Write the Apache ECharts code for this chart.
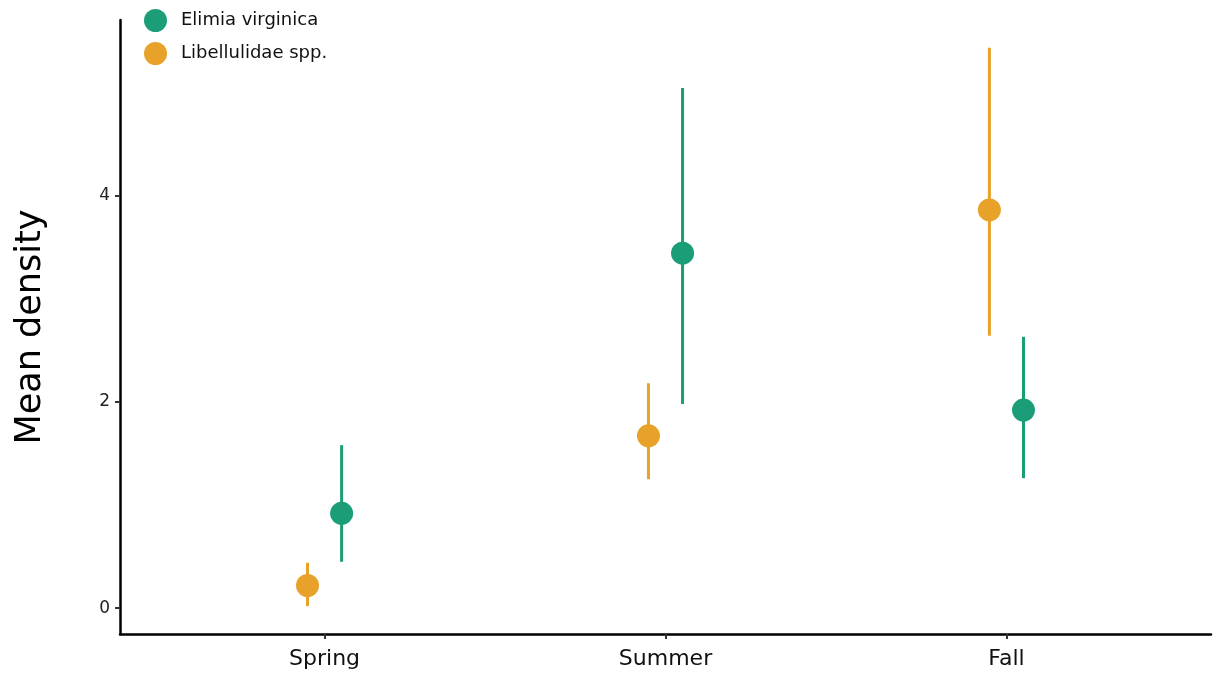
<!DOCTYPE html>
<html>
<head>
<meta charset="utf-8">
<script src="https://cdn.jsdelivr.net/npm/echarts@6/dist/echarts.min.js"></script>
<style>
  html, body { margin: 0; padding: 0; background: #fff; }
  #chart { width: 1215px; height: 678px; }
</style>
</head>
<body>
<div id="chart"></div>
<script>
// seasons on the x axis
var seasons = ["Spring", "Summer", "Fall"];
var yTicks = [0, 2, 4];

// Elimia virginica: mean and interval per season
var elimiaMean = [0.92, 3.44, 1.92];
var elimiaLow = [0.45, 1.98, 1.26];
var elimiaHigh = [1.58, 5.04, 2.63];

// Libellulidae spp.: mean and interval per season
var libMean = [0.22, 1.67, 3.86];
var libLow = [0.02, 1.25, 2.64];
var libHigh = [0.44, 2.18, 5.43];

var dodge = 0.05;
var green = "#1b9e77";
var orange = "#e8a129";
var font = "DejaVu Sans";

function points(mean, off) {
  return mean.map(function (v, i) { return [i + 1 + off, v]; });
}
function bars(lo, hi, off) {
  return lo.map(function (v, i) { return [i + 1 + off, v, hi[i]]; });
}
// vertical error line from lo to hi
function errorLine(color) {
  return function (params, api) {
    var p1 = api.coord([api.value(0), api.value(1)]);
    var p2 = api.coord([api.value(0), api.value(2)]);
    return {
      type: "line",
      shape: { x1: p1[0], y1: p1[1], x2: p2[0], y2: p2[1] },
      style: { stroke: color, lineWidth: 3 }
    };
  };
}

var chart = echarts.init(document.getElementById("chart"));
chart.setOption({
  animation: false,
  grid: { left: 120, right: 4, top: 20, bottom: 44 },
  legend: {
    orient: "vertical",
    left: 139,
    top: 4,
    itemWidth: 23,
    itemHeight: 23,
    itemGap: 10,
    icon: "circle",
    data: ["Elimia virginica", "Libellulidae spp."],
    textStyle: { fontFamily: font, fontSize: 18, color: "#111", padding: [0, 0, 0, 9] }
  },
  xAxis: {
    type: "value",
    min: 0.4,
    max: 3.6,
    splitLine: { show: false },
    axisLine: { onZero: false, lineStyle: { color: "#000", width: 2.5 } },
    axisTick: { customValues: [1, 2, 3], length: 5, lineStyle: { color: "#333", width: 2 } },
    axisLabel: {
      customValues: [1, 2, 3],
      formatter: function (v) { return seasons[Math.round(v) - 1]; },
      margin: 14,
      fontFamily: font,
      fontSize: 22,
      color: "#111"
    }
  },
  yAxis: {
    type: "value",
    min: -0.25,
    max: 5.70,
    name: "Mean density",
    nameLocation: "middle",
    nameGap: 72,
    nameTextStyle: { fontFamily: font, fontSize: 35, color: "#000" },
    splitLine: { show: false },
    axisLine: { show: true, onZero: false, lineStyle: { color: "#000", width: 2.5 } },
    axisTick: { show: true, customValues: yTicks, length: 5, lineStyle: { color: "#333", width: 2 } },
    axisLabel: {
      customValues: yTicks,
      margin: 10,
      fontFamily: font,
      fontSize: 17,
      color: "#222"
    }
  },
  series: [
    {
      name: "Elimia virginica",
      type: "custom",
      renderItem: errorLine(green),
      itemStyle: { color: green },
      data: bars(elimiaLow, elimiaHigh, dodge),
      z: 1
    },
    {
      name: "Libellulidae spp.",
      type: "custom",
      renderItem: errorLine(orange),
      itemStyle: { color: orange },
      data: bars(libLow, libHigh, -dodge),
      z: 1
    },
    {
      name: "Elimia virginica",
      type: "scatter",
      symbolSize: 23,
      itemStyle: { color: green, opacity: 1 },
      data: points(elimiaMean, dodge),
      z: 2
    },
    {
      name: "Libellulidae spp.",
      type: "scatter",
      symbolSize: 23,
      itemStyle: { color: orange, opacity: 1 },
      data: points(libMean, -dodge),
      z: 2
    }
  ]
});
</script>
</body>
</html>
